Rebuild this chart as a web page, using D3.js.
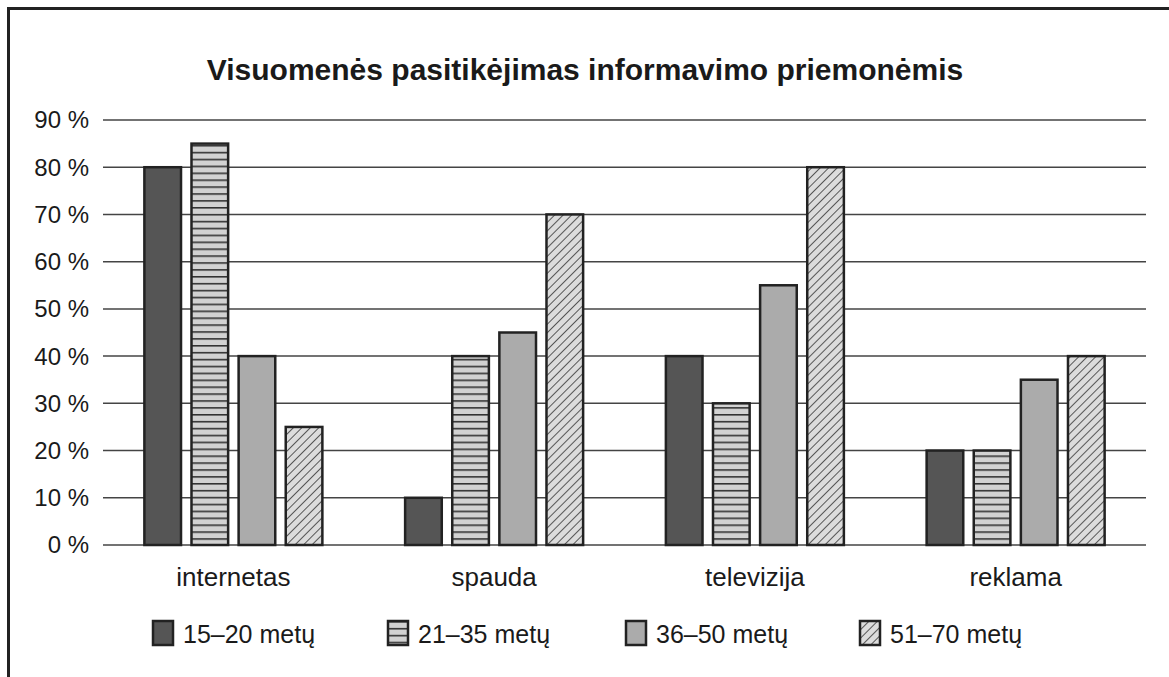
<!DOCTYPE html>
<html>
<head>
<meta charset="utf-8">
<script src="https://cdn.jsdelivr.net/npm/d3@7"></script>
<style>
  body { margin: 0; background: #fff; }
  svg text { font-family: "Liberation Sans", Arial, sans-serif; fill: #1a1a1a; }
</style>
</head>
<body>
<svg id="chart" width="1169" height="677"></svg>
<script>
// chart data
var categories = ["internetas", "spauda", "televizija", "reklama"];
var groups = ["15–20 metų", "21–35 metų", "36–50 metų", "51–70 metų"];
var values = {
  "15–20 metų": [80, 10, 40, 20],
  "21–35 metų": [85, 40, 30, 20],
  "36–50 metų": [40, 45, 55, 35],
  "51–70 metų": [25, 70, 80, 40]
};
var yTicks = [0, 10, 20, 30, 40, 50, 60, 70, 80, 90];

var svg = d3.select("#chart");
var defs = svg.append("defs");

// horizontal stripes
var ps = defs.append("pattern").attr("id", "stripes")
  .attr("patternUnits", "userSpaceOnUse").attr("width", 8).attr("height", 6.9);
ps.append("rect").attr("width", 8).attr("height", 6.9).attr("fill", "#d2d2d2");
ps.append("line").attr("x1", 0).attr("x2", 8).attr("y1", 0.8).attr("y2", 0.8)
  .attr("stroke", "#333").attr("stroke-width", 1.6);

// diagonal hatch
var ph = defs.append("pattern").attr("id", "hatch")
  .attr("patternUnits", "userSpaceOnUse").attr("width", 6).attr("height", 6)
  .attr("patternTransform", "rotate(45)");
ph.append("rect").attr("width", 6).attr("height", 6).attr("fill", "#dcdcdc");
ph.append("line").attr("x1", 0).attr("x2", 0).attr("y1", 0).attr("y2", 6)
  .attr("stroke", "#333").attr("stroke-width", 1.6);

var fills = {
  "15–20 metų": "#555555",
  "21–35 metų": "url(#stripes)",
  "36–50 metų": "#ababab",
  "51–70 metų": "url(#hatch)"
};

// frame (only left and top edges visible)
svg.append("rect").attr("x", 8.5).attr("y", 8.5)
  .attr("width", 1300).attr("height", 1000)
  .attr("fill", "none").attr("stroke", "#222").attr("stroke-width", 3);

svg.append("text")
  .attr("x", 585).attr("y", 80)
  .attr("text-anchor", "middle")
  .style("font-size", "30px").style("font-weight", "bold")
  .text("Visuomenės pasitikėjimas informavimo priemonėmis");

var plotLeft = 103, plotRight = 1146, plotTop = 120, plotBottom = 545;

var x = d3.scaleBand().domain(categories).range([plotLeft, plotRight]);
var xInner = d3.scaleBand().domain(groups).range([0, 180]).paddingInner(0.18);
var y = d3.scaleLinear().domain([0, 90]).range([plotBottom, plotTop]);

// gridlines
svg.append("g").selectAll("line").data(yTicks).enter().append("line")
  .attr("x1", plotLeft).attr("x2", plotRight)
  .attr("y1", function(d) { return y(d); })
  .attr("y2", function(d) { return y(d); })
  .attr("stroke", "#444").attr("stroke-width", 1.5);

// y labels
svg.append("g").selectAll("text").data(yTicks).enter().append("text")
  .attr("x", 89).attr("y", function(d) { return y(d); })
  .attr("dy", "0.35em").attr("text-anchor", "end")
  .style("font-size", "24px")
  .text(function(d) { return d + " %"; });

// bars
var gcat = svg.append("g").selectAll("g").data(categories).enter().append("g")
  .attr("transform", function(d) {
    return "translate(" + (x(d) + x.bandwidth() / 2 - 90) + ",0)";
  });

gcat.selectAll("rect")
  .data(function(c, i) {
    return groups.map(function(g) { return { group: g, value: values[g][i] }; });
  })
  .enter().append("rect")
  .attr("x", function(d) { return xInner(d.group) + 1; })
  .attr("y", function(d) { return y(d.value); })
  .attr("width", xInner.bandwidth() - 2)
  .attr("height", function(d) { return plotBottom - y(d.value); })
  .attr("fill", function(d) { return fills[d.group]; })
  .attr("stroke", "#222").attr("stroke-width", 2.5);

// category labels
svg.append("g").selectAll("text").data(categories).enter().append("text")
  .attr("x", function(d) { return x(d) + x.bandwidth() / 2; })
  .attr("y", 586)
  .attr("text-anchor", "middle")
  .style("font-size", "26px")
  .text(function(d) { return d; });

// legend
var legendX = [153, 388, 626, 860];
var leg = svg.append("g").selectAll("g").data(groups).enter().append("g")
  .attr("transform", function(d, i) { return "translate(" + legendX[i] + ",621)"; });
leg.append("rect")
  .attr("width", 20).attr("height", 24)
  .attr("fill", function(d) { return fills[d]; })
  .attr("stroke", "#222").attr("stroke-width", 2.5);
leg.append("text")
  .attr("x", 30).attr("y", 22)
  .style("font-size", "25px")
  .text(function(d) { return d; });
</script>
</body>
</html>
